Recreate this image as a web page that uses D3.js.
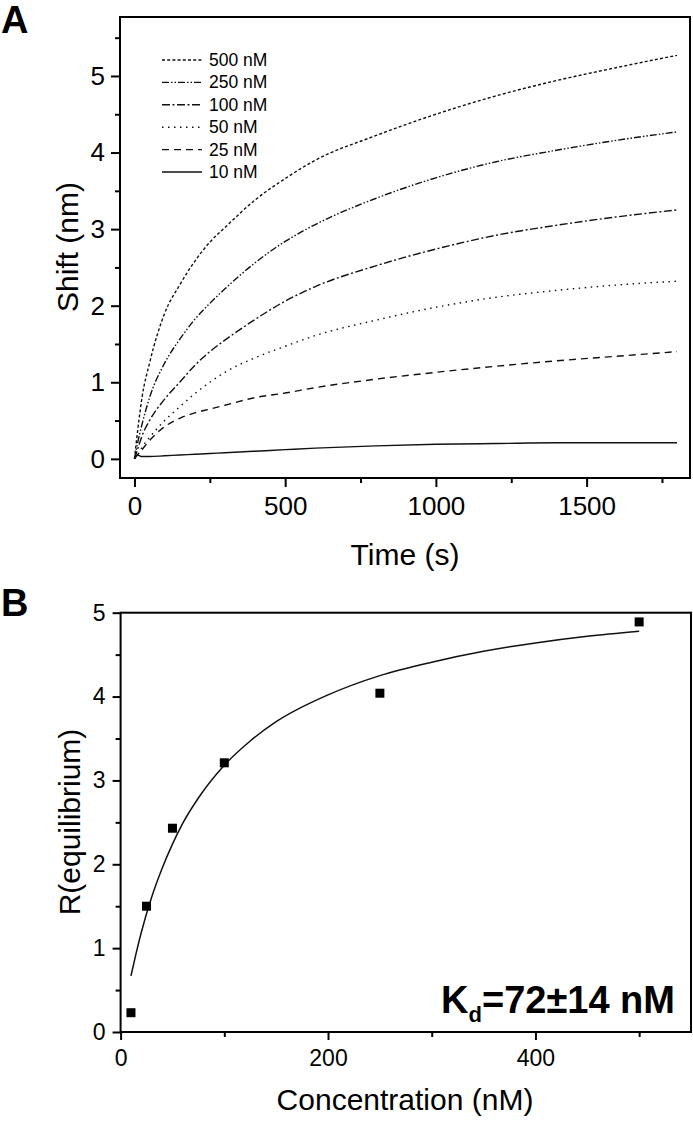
<!DOCTYPE html>
<html>
<head>
<meta charset="utf-8">
<script src="https://cdn.jsdelivr.net/npm/d3@7"></script>
<style>
body { margin: 0; background: #fff; }
text { font-family: "Liberation Sans", Arial, sans-serif; fill: #000; }
</style>
</head>
<body>
<div id="app"></div>
<script>
//DATA------------------------------------------------------

// panel A: binding curves, shift (nm) read at these times (s)
var times    = [0, 10, 25, 50, 100, 150, 200, 250, 300, 400, 500, 600, 800, 1000, 1200, 1400, 1600, 1800];
var shift500 = [0, 0.35, 0.8, 1.25, 1.9, 2.27, 2.58, 2.83, 3.02, 3.38, 3.66, 3.9, 4.22, 4.5, 4.74, 4.94, 5.11, 5.27];
var shift250 = [0, 0.2, 0.45, 0.8, 1.25, 1.56, 1.82, 2.03, 2.22, 2.56, 2.84, 3.06, 3.4, 3.67, 3.88, 4.03, 4.16, 4.27];
var shift100 = [0, 0.12, 0.3, 0.5, 0.78, 1.0, 1.22, 1.4, 1.55, 1.82, 2.06, 2.25, 2.52, 2.74, 2.92, 3.05, 3.16, 3.25];
var shift50  = [0, 0.05, 0.15, 0.28, 0.5, 0.68, 0.85, 1.0, 1.13, 1.32, 1.47, 1.61, 1.81, 1.98, 2.11, 2.2, 2.27, 2.32];
var shift25  = [0, 0.05, 0.12, 0.24, 0.42, 0.53, 0.6, 0.65, 0.7, 0.8, 0.86, 0.93, 1.04, 1.13, 1.21, 1.28, 1.34, 1.4];
var shift10  = [0, 0.05, 0.03, 0.03, 0.04, 0.05, 0.06, 0.07, 0.08, 0.1, 0.12, 0.14, 0.17, 0.19, 0.2, 0.21, 0.21, 0.21];
var seriesNames = ["500 nM", "250 nM", "100 nM", "50 nM", "25 nM", "10 nM"];
var seriesValues = [shift500, shift250, shift100, shift50, shift25, shift10];
var seriesDash = ["3,2.2", "7,2,1.5,2,1.5,2", "8,2.5,2,2.5", "1.5,4.5", "7,5", null];

var timeTicks = [0, 500, 1000, 1500];
var timeMinor = [250, 750, 1250, 1750];
var shiftTicks = [0, 1, 2, 3, 4, 5];
var shiftMinor = [0.5, 1.5, 2.5, 3.5, 4.5, 5.5];

// panel B: equilibrium response vs concentration
var concentrations = [10, 25, 50, 100, 250, 500];
var rEquilibrium   = [0.23, 1.50, 2.43, 3.21, 4.04, 4.89];
// fit line
var fitConc = [10, 15, 20, 30, 40, 50, 60, 75, 100, 125, 150, 200, 250, 300, 350, 400, 450, 500];
var fitR    = [0.67, 0.94, 1.19, 1.61, 1.95, 2.24, 2.49, 2.79, 3.18, 3.47, 3.70, 4.02, 4.25, 4.41, 4.54, 4.64, 4.72, 4.78];

var concTicks = [0, 200, 400];
var concMinor = [100, 300, 500];
var rTicks = [0, 1, 2, 3, 4, 5];
var rMinor = [0.5, 1.5, 2.5, 3.5, 4.5];

//D3 STUFF------------------------------------------------------

var svg = d3.select("#app")
  .append("svg")
    .attr("width", 693)
    .attr("height", 1123);

//---------------------------------Panel A-----------------------------------//
var xA = d3.scaleLinear().domain([-48, 1843]).range([120, 690]);
var yA = d3.scaleLinear().domain([-0.25, 5.77]).range([478, 17]);

// minor ticks first
svg.append("g")
    .attr("class", "axis")
    .attr("transform", "translate(120,0)")
    .call(d3.axisLeft(yA).tickValues(shiftMinor).tickSize(5).tickFormat(""));
svg.append("g")
    .attr("class", "axis")
    .attr("transform", "translate(0,478)")
    .call(d3.axisBottom(xA).tickValues(timeMinor).tickSize(5).tickFormat(""));

// major ticks
svg.append("g")
    .attr("class", "axis axisA")
    .attr("transform", "translate(120,0)")
    .call(d3.axisLeft(yA).tickValues(shiftTicks).tickSize(9).tickPadding(6).tickFormat(d3.format("d")));
svg.append("g")
    .attr("class", "axis axisA")
    .attr("transform", "translate(0,478)")
    .call(d3.axisBottom(xA).tickValues(timeTicks).tickSize(9).tickPadding(10).tickFormat(d3.format("d")));

// the lines
var lineA = d3.line()
    .x(function(d, i) { return xA(times[i]); })
    .y(function(d) { return yA(d); })
    .curve(d3.curveMonotoneX);

svg.append("g")
    .attr("class", "lines")
  .selectAll("path")
  .data(seriesValues)
  .enter()
    .append("path")
      .attr("d", lineA)
      .attr("fill", "none")
      .attr("stroke", "#111")
      .attr("stroke-width", 1.4)
      .attr("stroke-dasharray", function(d, i) { return seriesDash[i]; });

// legend
var legend = svg.append("g")
    .attr("class", "legend")
  .selectAll("g")
  .data(seriesNames)
  .enter()
    .append("g")
      .attr("transform", function(d, i) { return "translate(0," + (60 + i * 22.4) + ")"; });
legend.append("line")
    .attr("x1", 162)
    .attr("x2", 202)
    .attr("stroke", "#111")
    .attr("stroke-width", 1.4)
    .attr("stroke-dasharray", function(d, i) { return seriesDash[i]; });
legend.append("text")
    .attr("x", 209)
    .attr("y", 6)
    .style("font-size", "17.5px")
    .text(function(d) { return d; });

// frame
svg.append("rect")
    .attr("x", 120).attr("y", 17)
    .attr("width", 570).attr("height", 461)
    .attr("fill", "none")
    .attr("stroke", "#000")
    .attr("stroke-width", 2);

svg.append("text")
    .attr("x", 405).attr("y", 565)
    .attr("text-anchor", "middle")
    .style("font-size", "30px")
    .text("Time (s)");
svg.append("text")
    .attr("transform", "translate(78,247) rotate(-90)")
    .attr("text-anchor", "middle")
    .style("font-size", "30px")
    .text("Shift (nm)");
svg.append("text")
    .attr("x", 1).attr("y", 33)
    .style("font-size", "38px")
    .style("font-weight", "bold")
    .text("A");

//---------------------------------Panel B-----------------------------------//
var xB = d3.scaleLinear().domain([0, 550]).range([120.6, 691]);
var yB = d3.scaleLinear().domain([0, 5]).range([1032, 612.7]);

svg.append("g")
    .attr("class", "axis")
    .attr("transform", "translate(120.6,0)")
    .call(d3.axisLeft(yB).tickValues(rMinor).tickSize(5).tickFormat(""));
svg.append("g")
    .attr("class", "axis")
    .attr("transform", "translate(0,1032)")
    .call(d3.axisBottom(xB).tickValues(concMinor).tickSize(5).tickFormat(""));
svg.append("g")
    .attr("class", "axis axisB")
    .attr("transform", "translate(120.6,0)")
    .call(d3.axisLeft(yB).tickValues(rTicks).tickSize(8).tickPadding(7).tickFormat(d3.format("d")));
svg.append("g")
    .attr("class", "axis axisB")
    .attr("transform", "translate(0,1032)")
    .call(d3.axisBottom(xB).tickValues(concTicks).tickSize(8).tickPadding(10).tickFormat(d3.format("d")));

// fit line
var lineB = d3.line()
    .x(function(d, i) { return xB(fitConc[i]); })
    .y(function(d) { return yB(d); })
    .curve(d3.curveMonotoneX);
svg.append("path")
    .datum(fitR)
    .attr("d", lineB)
    .attr("fill", "none")
    .attr("stroke", "#111")
    .attr("stroke-width", 1.5);

// points
svg.append("g")
    .attr("class", "points")
  .selectAll("rect")
  .data(rEquilibrium)
  .enter()
    .append("rect")
      .attr("x", function(d, i) { return xB(concentrations[i]) - 4.5; })
      .attr("y", function(d) { return yB(d) - 4.5; })
      .attr("width", 9)
      .attr("height", 9)
      .attr("fill", "#000");

svg.append("rect")
    .attr("x", 120.6).attr("y", 612.7)
    .attr("width", 570.4).attr("height", 419.3)
    .attr("fill", "none")
    .attr("stroke", "#000")
    .attr("stroke-width", 2);

// Kd label
var kd = svg.append("text")
    .attr("x", 675).attr("y", 1013)
    .attr("text-anchor", "end")
    .style("font-weight", "bold")
    .style("font-size", "38px");
kd.append("tspan").text("K");
kd.append("tspan").attr("dy", 9).style("font-size", "22px").text("d");
kd.append("tspan").attr("dy", -9).text("=72\u00b114 nM");

svg.append("text")
    .attr("x", 405).attr("y", 1110)
    .attr("text-anchor", "middle")
    .style("font-size", "30px")
    .text("Concentration (nM)");
svg.append("text")
    .attr("transform", "translate(80,822) rotate(-90)")
    .attr("text-anchor", "middle")
    .style("font-size", "30px")
    .text("R(equilibrium)");
svg.append("text")
    .attr("x", 1).attr("y", 616)
    .style("font-size", "38px")
    .style("font-weight", "bold")
    .text("B");

// axis styling
svg.selectAll(".axis .domain").remove();
svg.selectAll(".axis line").attr("stroke", "#000").attr("stroke-width", 2);
svg.selectAll(".axisA text").style("font-size", "26px").style("font-family", "'Liberation Sans', Arial, sans-serif");
svg.selectAll(".axisB text").style("font-size", "23px").style("font-family", "'Liberation Sans', Arial, sans-serif");
</script>
</body>
</html>
